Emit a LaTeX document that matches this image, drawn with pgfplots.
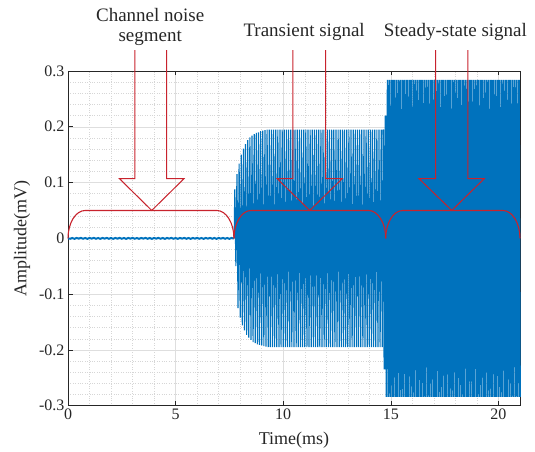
\documentclass[border=0pt]{standalone}
\usepackage{pgfplots}
\pgfplotsset{compat=1.18}
\usepackage{fontspec}
\setmainfont{Liberation Serif}
\definecolor{mblue}{RGB}{0,114,189}
\definecolor{mred}{RGB}{200,35,45}
\definecolor{axgray}{RGB}{38,38,38}

\begin{document}
\begin{tikzpicture}
\useasboundingbox (0,0) rectangle (535pt,452pt);
\begin{axis}[
  at={(68pt,46.3pt)}, anchor=south west,
  scale only axis, width=452pt, height=334.7pt,
  xmin=0, xmax=21, ymin=-0.3, ymax=0.3,
  enlargelimits=false, clip=false,
  xtick={0,5,10,15,20},
  ytick={-0.3,-0.2,-0.1,0,0.1,0.2,0.3},
  yticklabels={-0.3,-0.2,-0.1,0,0.1,0.2,0.3},
  minor x tick num=4, minor y tick num=4,
  grid=both,
  major grid style={draw=black!13, line width=0.5pt},
  minor grid style={draw=black!16, dotted, line width=0.5pt},
  axis line style={draw=axgray, line width=0.7pt},
  tick style={draw=axgray, line width=0.7pt},
  major tick length=4.5pt, minor tick length=0pt,
  tick align=inside,
  /pgf/number format/assume math mode=true,
  ticklabel style={font=\fontsize{16}{18}\selectfont, text=axgray},
  xlabel={Time(ms)}, ylabel={Amplitude(mV)},
  label style={font=\fontsize{18}{20}\selectfont, text=axgray},
  xlabel style={at={(axis description cs:0.5,-0.117)}, anchor=base},
  ylabel style={at={(axis description cs:-0.1018,0.5)}, anchor=center},
]
% channel noise
\addplot[mblue, line width=2pt] coordinates {
(0,0)(0.1,-0.0007)(0.2,0.0006)(0.3,-0.0009)(0.4,0.0007)(0.5,-0.0005)
(0.6,0.0008)(0.7,-0.0007)(0.8,0.0006)(0.9,-0.0009)(1.0,0.0007)(1.1,-0.0005)
(1.2,0.0008)(1.3,-0.0007)(1.4,0.0006)(1.5,-0.0009)(1.6,0.0007)(1.7,-0.0005)
(1.8,0.0008)(1.9,-0.0007)(2.0,0.0006)(2.1,-0.0009)(2.2,0.0007)(2.3,-0.0005)
(2.4,0.0008)(2.5,-0.0007)(2.6,0.0006)(2.7,-0.0009)(2.8,0.0007)(2.9,-0.0005)
(3.0,0.0008)(3.1,-0.0007)(3.2,0.0006)(3.3,-0.0009)(3.4,0.0007)(3.5,-0.0005)
(3.6,0.0008)(3.7,-0.0007)(3.8,0.0006)(3.9,-0.0009)(4.0,0.0007)(4.1,-0.0005)
(4.2,0.0008)(4.3,-0.0007)(4.4,0.0006)(4.5,-0.0009)(4.6,0.0007)(4.7,-0.0005)
(4.8,0.0008)(4.9,-0.0007)(5.0,0.0006)(5.1,-0.0009)(5.2,0.0007)(5.3,-0.0005)
(5.4,0.0008)(5.5,-0.0007)(5.6,0.0006)(5.7,-0.0009)(5.8,0.0007)(5.9,-0.0005)
(6.0,0.0008)(6.1,-0.0007)(6.2,0.0006)(6.3,-0.0009)(6.4,0.0007)(6.5,-0.0005)
(6.6,0.0008)(6.7,-0.0007)(6.8,0.0006)(6.9,-0.0009)(7.0,0.0007)(7.1,-0.0005)
(7.2,0.0008)(7.3,-0.0007)(7.4,0.0006)(7.5,-0.0009)(7.6,0.0007)(7.7,-0.0005)
};
% transient signal
\addplot[mblue, line width=1.15pt] coordinates {
(7.72,0)(7.75,0.088)(7.80,-0.05)(7.85,0.115)(7.90,-0.125)(7.95,0.134)
(8.00,-0.142)(8.05,0.150)(8.10,-0.156)(8.15,0.161)(8.20,-0.165)(8.25,0.169)
(8.30,-0.173)(8.35,0.176)(8.40,-0.178)(8.45,0.181)(8.50,-0.182)(8.55,0.184)
(8.60,-0.186)(8.65,0.187)(8.70,-0.188)(8.75,0.189)(8.80,-0.190)(8.85,0.190)
(8.90,-0.191)(8.95,0.192)(9.00,-0.192)(9.05,0.193)(9.10,-0.193)(9.15,0.194)(9.20,-0.194)
(9.25,0.195)(9.30,-0.195)(9.35,0.195)(9.40,-0.195)(9.45,0.195)(9.50,-0.195)(9.55,0.195)(9.60,-0.195)(9.65,0.195)(9.70,-0.195)
(9.75,0.195)(9.80,-0.195)(9.85,0.195)(9.90,-0.195)(9.95,0.195)(10.00,-0.195)(10.05,0.195)(10.10,-0.195)(10.15,0.195)(10.20,-0.195)
(10.25,0.195)(10.30,-0.195)(10.35,0.195)(10.40,-0.195)(10.45,0.195)(10.50,-0.195)(10.55,0.195)(10.60,-0.195)(10.65,0.195)(10.70,-0.195)
(10.75,0.195)(10.80,-0.195)(10.85,0.195)(10.90,-0.195)(10.95,0.195)(11.00,-0.195)(11.05,0.195)(11.10,-0.195)(11.15,0.195)(11.20,-0.195)
(11.25,0.195)(11.30,-0.195)(11.35,0.195)(11.40,-0.195)(11.45,0.195)(11.50,-0.195)(11.55,0.195)(11.60,-0.195)(11.65,0.195)(11.70,-0.195)
(11.75,0.195)(11.80,-0.195)(11.85,0.195)(11.90,-0.195)(11.95,0.195)(12.00,-0.195)(12.05,0.195)(12.10,-0.195)(12.15,0.195)(12.20,-0.195)
(12.25,0.195)(12.30,-0.195)(12.35,0.195)(12.40,-0.195)(12.45,0.195)(12.50,-0.195)(12.55,0.195)(12.60,-0.195)(12.65,0.195)(12.70,-0.195)
(12.75,0.195)(12.80,-0.195)(12.85,0.195)(12.90,-0.195)(12.95,0.195)(13.00,-0.195)(13.05,0.195)(13.10,-0.195)(13.15,0.195)(13.20,-0.195)
(13.25,0.195)(13.30,-0.195)(13.35,0.195)(13.40,-0.195)(13.45,0.195)(13.50,-0.195)(13.55,0.195)(13.60,-0.195)(13.65,0.195)(13.70,-0.195)
(13.75,0.195)(13.80,-0.195)(13.85,0.195)(13.90,-0.195)(13.95,0.195)(14.00,-0.195)(14.05,0.195)(14.10,-0.195)(14.15,0.195)(14.20,-0.195)
(14.25,0.195)(14.30,-0.195)(14.35,0.195)(14.40,-0.195)(14.45,0.195)(14.50,-0.195)(14.55,0.195)(14.60,-0.195)(14.65,0.195)
};
% steady-state signal
\addplot[mblue, line width=1.7pt] coordinates {
(14.65,0.195)(14.70,-0.235)(14.75,0.22)
(14.80,-0.284)(14.85,0.284)(14.90,-0.284)(14.95,0.284)(15.00,-0.284)(15.05,0.284)(15.10,-0.284)(15.15,0.284)(15.20,-0.284)(15.25,0.284)
(15.30,-0.284)(15.35,0.284)(15.40,-0.284)(15.45,0.284)(15.50,-0.284)(15.55,0.284)(15.60,-0.284)(15.65,0.284)(15.70,-0.284)(15.75,0.284)
(15.80,-0.284)(15.85,0.284)(15.90,-0.284)(15.95,0.284)(16.00,-0.284)(16.05,0.284)(16.10,-0.284)(16.15,0.284)(16.20,-0.284)(16.25,0.284)
(16.30,-0.284)(16.35,0.284)(16.40,-0.284)(16.45,0.284)(16.50,-0.284)(16.55,0.284)(16.60,-0.284)(16.65,0.284)(16.70,-0.284)(16.75,0.284)
(16.80,-0.284)(16.85,0.284)(16.90,-0.284)(16.95,0.284)(17.00,-0.284)(17.05,0.284)(17.10,-0.284)(17.15,0.284)(17.20,-0.284)(17.25,0.284)
(17.30,-0.284)(17.35,0.284)(17.40,-0.284)(17.45,0.284)(17.50,-0.284)(17.55,0.284)(17.60,-0.284)(17.65,0.284)(17.70,-0.284)(17.75,0.284)
(17.80,-0.284)(17.85,0.284)(17.90,-0.284)(17.95,0.284)(18.00,-0.284)(18.05,0.284)(18.10,-0.284)(18.15,0.284)(18.20,-0.284)(18.25,0.284)
(18.30,-0.284)(18.35,0.284)(18.40,-0.284)(18.45,0.284)(18.50,-0.284)(18.55,0.284)(18.60,-0.284)(18.65,0.284)(18.70,-0.284)(18.75,0.284)
(18.80,-0.284)(18.85,0.284)(18.90,-0.284)(18.95,0.284)(19.00,-0.284)(19.05,0.284)(19.10,-0.284)(19.15,0.284)(19.20,-0.284)(19.25,0.284)
(19.30,-0.284)(19.35,0.284)(19.40,-0.284)(19.45,0.284)(19.50,-0.284)(19.55,0.284)(19.60,-0.284)(19.65,0.284)(19.70,-0.284)(19.75,0.284)
(19.80,-0.284)(19.85,0.284)(19.90,-0.284)(19.95,0.284)(20.00,-0.284)(20.05,0.284)(20.10,-0.284)(20.15,0.284)(20.20,-0.284)(20.25,0.284)
(20.30,-0.284)(20.35,0.284)(20.40,-0.284)(20.45,0.284)(20.50,-0.284)(20.55,0.284)(20.60,-0.284)(20.65,0.284)(20.70,-0.284)(20.75,0.284)
(20.80,-0.284)(20.85,0.284)(20.90,-0.284)(20.95,0.284)(21.00,-0.284)
};

% braces
\draw[mred, line width=1.1pt] (axis cs:0,0) .. controls (axis cs:0,0.0276) and (axis cs:0.358,0.05) .. (axis cs:0.8,0.05)
  -- (axis cs:6.91,0.05) .. controls (axis cs:7.352,0.05) and (axis cs:7.71,0.0276) .. (axis cs:7.71,0);
\draw[mred, line width=1.1pt] (axis cs:7.71,0) .. controls (axis cs:7.71,0.0276) and (axis cs:8.068,0.05) .. (axis cs:8.51,0.05)
  -- (axis cs:13.96,0.05) .. controls (axis cs:14.402,0.05) and (axis cs:14.76,0.0276) .. (axis cs:14.76,0);
\draw[mred, line width=1.1pt] (axis cs:14.76,0) .. controls (axis cs:14.76,0.0276) and (axis cs:15.118,0.05) .. (axis cs:15.56,0.05)
  -- (axis cs:20.2,0.05) .. controls (axis cs:20.642,0.05) and (axis cs:21,0.0276) .. (axis cs:21,0);

% block arrows
\draw[mred, line width=1pt] (axis cs:3.11,0.3376) -- (axis cs:3.11,0.107) -- (axis cs:2.39,0.107) -- (axis cs:3.89,0.05)
  -- (axis cs:5.39,0.107) -- (axis cs:4.58,0.107) -- (axis cs:4.58,0.3376);
\draw[mred, line width=1pt] (axis cs:10.45,0.3376) -- (axis cs:10.45,0.107) -- (axis cs:9.72,0.107) -- (axis cs:11.23,0.05)
  -- (axis cs:12.74,0.107) -- (axis cs:11.97,0.107) -- (axis cs:11.97,0.3376);
\draw[mred, line width=1pt] (axis cs:17.08,0.3376) -- (axis cs:17.08,0.107) -- (axis cs:16.31,0.107) -- (axis cs:17.83,0.05)
  -- (axis cs:19.34,0.107) -- (axis cs:18.58,0.107) -- (axis cs:18.58,0.3376);

% annotations
\begin{scope}[every node/.style={anchor=base, font=\fontsize{19}{21}\selectfont, text=axgray, inner sep=0pt}]
\node at (axis cs:3.82,0.3887) {Channel noise};
\node at (axis cs:3.82,0.352) {segment};
\node at (axis cs:10.97,0.3627) {Transient signal};
\node at (axis cs:18.0,0.3627) {Steady-state signal};
\end{scope}
\end{axis}
\end{tikzpicture}
\end{document}
